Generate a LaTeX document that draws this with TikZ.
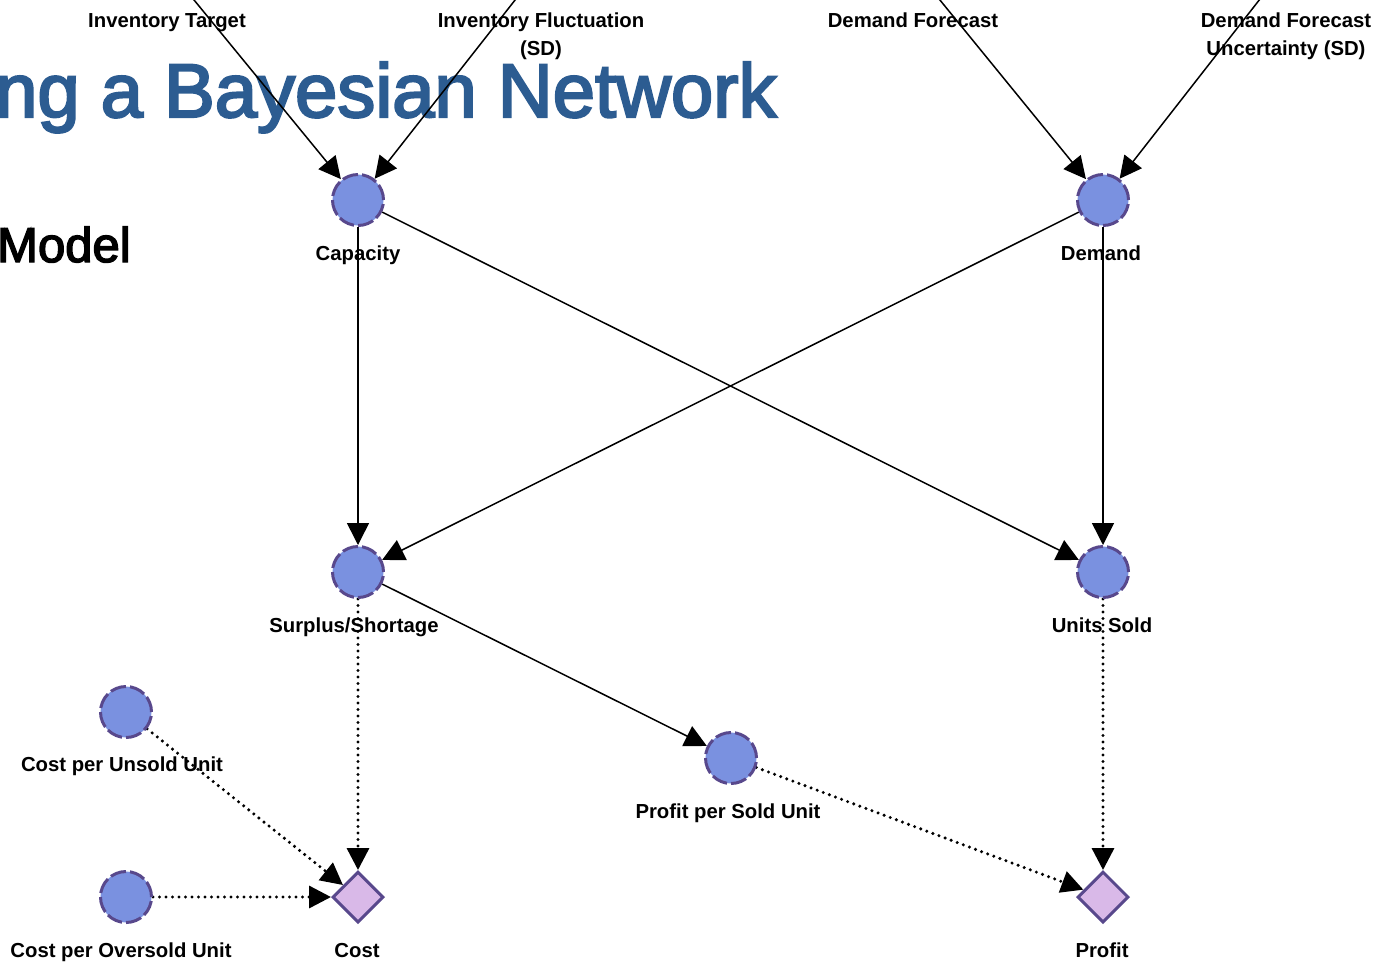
\documentclass[tikz,border=0pt]{standalone}
\usepackage{fontspec}
\setmainfont{Liberation Sans}
\newfontfamily\headfont{Liberation Sans}[FakeBold=3]
\usetikzlibrary{arrows.meta,shapes.geometric}
\pgfdeclarelayer{back}
\pgfdeclarelayer{edges}
\pgfsetlayers{back,edges,main}
\definecolor{chance}{RGB}{122,145,224}
\definecolor{rim}{RGB}{88,72,140}
\definecolor{util}{RGB}{217,185,232}
\definecolor{titleblue}{RGB}{44,92,145}
\tikzset{
  chancenode/.style={circle, fill=chance, draw=rim, line width=3pt,
    dash pattern=on 16pt off 4pt, minimum size=51pt, inner sep=0pt},
  valuenode/.style={diamond, aspect=1, fill=util, draw=rim, line width=3pt,
    minimum size=51pt, inner sep=0pt},
  lbl/.style={font=\fontsize{20.3}{28}\selectfont\bfseries, anchor=base,
    align=center, inner sep=0pt},
  link/.style={line width=1.5pt, -{Triangle[length=22pt,width=22pt]}},
  dotlink/.style={line width=3.4pt, line cap=round, dash pattern=on 0pt off 6.5pt,
    -{Triangle[length=22pt,width=22pt]}}
}
\begin{document}
\begin{tikzpicture}[x=1pt,y=-1pt]
\useasboundingbox (0,0) rectangle (1375,962);

% heading text behind the network
\begin{pgfonlayer}{back}
  \node[anchor=base west, inner sep=0pt, text=titleblue,
        font=\headfont\fontsize{76}{76}\selectfont] (heading) at (-5,117) {ng a Bayesian Network};
  \node[anchor=base west, inner sep=0pt,
        font=\headfont\fontsize{49}{49}\selectfont] (subheading) at (-3,262) {Model};

  % node labels (two-line labels are placed by their last baseline)
  \node[lbl] (lIT)  at (167,27)  {Inventory Target};
  \node[lbl] (lIF)  at (541,55)  {Inventory Fluctuation\\(SD)};
  \node[lbl] (lDF)  at (913,27)  {Demand Forecast};
  \node[lbl] (lDFU) at (1286,55) {Demand Forecast\\Uncertainty (SD)};
  \node[lbl] (lcap) at (358,260)  {Capacity};
  \node[lbl] (ldem) at (1101,260) {Demand};
  \node[lbl] (lsur) at (354,632)  {Surplus/Shortage};
  \node[lbl] (luns) at (1102,632) {Units Sold};
  \node[lbl] (lcpu) at (122,771)  {Cost per Unsold Unit};
  \node[lbl] (lpps) at (728,818)  {Profit per Sold Unit};
  \node[lbl] (lcpo) at (121,957)  {Cost per Oversold Unit};
  \node[lbl] (lcost) at (357,957) {Cost};
  \node[lbl] (lprof) at (1102,957) {Profit};
\end{pgfonlayer}

% parent variables lying above the visible area
\coordinate (invtarget) at (167,-33);
\coordinate (invfluct)  at (541,-33);
\coordinate (fcast)     at (913,-33);
\coordinate (fcastsd)   at (1285,-33);

% chance nodes
\node[chancenode] (cap) at (358,200) {};
\node[chancenode] (dem) at (1103,200) {};
\node[chancenode] (sur) at (358,572) {};
\node[chancenode] (uns) at (1103,572) {};
\node[chancenode] (cpu) at (126,712) {};
\node[chancenode] (pps) at (731,758) {};
\node[chancenode] (cpo) at (126,897) {};

% value nodes
\node[valuenode] (cost) at (358,897) {};
\node[valuenode] (prof) at (1103,897) {};

% dependencies
\begin{pgfonlayer}{edges}
  \draw[link] (invtarget) -- (cap);
  \draw[link] (invfluct) -- (cap);
  \draw[link] (fcast) -- (dem);
  \draw[link] (fcastsd) -- (dem);
  \draw[link] (cap) -- (sur);
  \draw[link] (cap) -- (uns);
  \draw[link] (dem) -- (sur);
  \draw[link] (dem) -- (uns);
  \draw[link] (sur) -- (pps);
  \draw[dotlink] (sur) -- (cost);
  \draw[dotlink] (cpu) -- (cost);
  \draw[dotlink] (cpo) -- (cost);
  \draw[dotlink] (uns) -- (prof);
  \draw[dotlink] (pps) -- (prof);
\end{pgfonlayer}
\end{tikzpicture}
\end{document}
